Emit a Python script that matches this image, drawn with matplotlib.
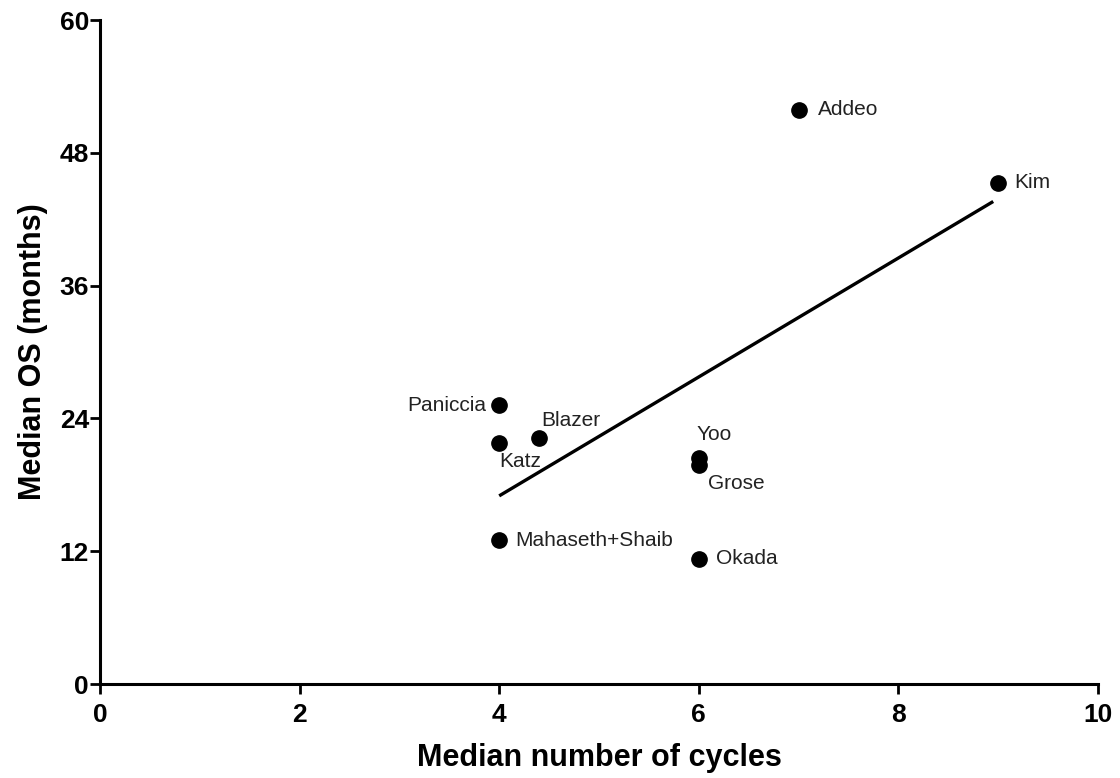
import matplotlib
matplotlib.use("Agg")
import matplotlib.pyplot as plt

# ---- data ----
studies = ["Addeo", "Kim", "Paniccia", "Katz", "Blazer", "Yoo", "Grose",
           "Mahaseth+Shaib", "Okada"]
cycles = [7.0, 9.0, 4.0, 4.0, 4.4, 6.0, 6.0, 4.0, 6.0]
median_os = [51.9, 45.3, 25.2, 21.8, 22.2, 20.4, 19.8, 13.0, 11.3]
fit_x = [4.0, 8.95]
fit_y = [17.0, 43.6]
x_ticks = [0, 2, 4, 6, 8, 10]
y_ticks = [0, 12, 24, 36, 48, 60]

# ---- layout (label offsets in pixels, alignment) ----
label_layout = {
    "Addeo": (19, 0, "left", "center"),
    "Kim": (16, 0, "left", "center"),
    "Paniccia": (-13, 0, "right", "center"),
    "Katz": (0, -19, "left", "center"),
    "Blazer": (2, 18, "left", "center"),
    "Yoo": (-2, 24, "left", "center"),
    "Grose": (9, -19, "left", "center"),
    "Mahaseth+Shaib": (16, 0, "left", "center"),
    "Okada": (17, 0, "left", "center"),
}

plt.rcParams['font.family'] = ['Liberation Sans', 'DejaVu Sans']

fig = plt.figure(figsize=(11.2, 7.78), dpi=100)
ax = fig.add_axes([100 / 1120, (778 - 684) / 778, 998 / 1120, 664 / 778])

ax.plot(fit_x, fit_y, color="black", lw=2.4, solid_capstyle="butt", zorder=2)
ax.plot(cycles, median_os, "o", color="black", markersize=11, zorder=3,
        clip_on=False)

for name, x, y in zip(studies, cycles, median_os):
    dx, dy, ha, va = label_layout[name]
    ax.annotate(name, (x, y), xytext=(dx, dy), textcoords="offset pixels",
                ha=ha, va=va, fontsize=15, color="#222222")

ax.set_xlim(0, 10)
ax.set_ylim(0, 60)
ax.set_xticks(x_ticks)
ax.set_yticks(y_ticks)
ax.set_xticklabels([str(t) for t in x_ticks], fontsize=19, fontweight="bold")
ax.set_yticklabels([str(t) for t in y_ticks], fontsize=19, fontweight="bold")

for side in ["top", "right"]:
    ax.spines[side].set_visible(False)
for side in ["left", "bottom"]:
    ax.spines[side].set_linewidth(2.2)
ax.tick_params(axis="both", direction="out", length=7, width=2)
ax.tick_params(axis="x", pad=7)
ax.tick_params(axis="y", pad=1)

ax.set_xlabel("Median number of cycles", fontsize=22, fontweight="bold",
              labelpad=11)
ax.set_ylabel("Median OS (months)", fontsize=22, fontweight="bold",
              labelpad=8)

fig.savefig("out.png", dpi=100)
